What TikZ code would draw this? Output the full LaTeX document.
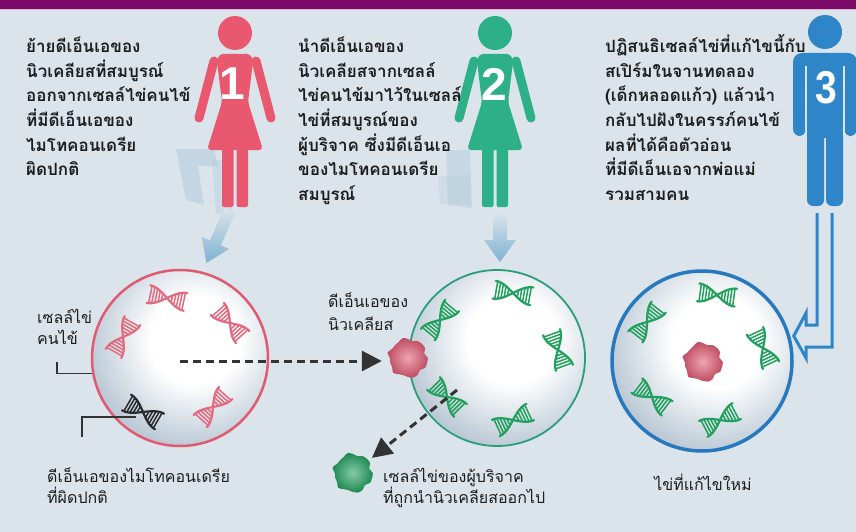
\documentclass[tikz,border=0pt]{standalone}
\usepackage{fontspec}
\newfontfamily\thaifont[Script=Thai]{Loma}
\newfontfamily\numfont{Liberation Sans}
\usetikzlibrary{arrows.meta}

\definecolor{bgcol}{HTML}{DCE4EB}
\definecolor{bannercol}{HTML}{7C0A68}
\definecolor{bannerline}{HTML}{E2B4D4}
\definecolor{womanpink}{HTML}{E8596F}
\definecolor{womangreen}{HTML}{2DB088}
\definecolor{manblue}{HTML}{2E86C8}
\definecolor{ringpink}{HTML}{E05A72}
\definecolor{ringgreen}{HTML}{2A9E7A}
\definecolor{ringblue}{HTML}{2678BF}
\definecolor{cellshade}{HTML}{8CA2B5}
\definecolor{cellmid}{HTML}{C6D2DC}
\definecolor{dnapinkc}{HTML}{E46A80}
\definecolor{dnagreenc}{HTML}{22A05E}
\definecolor{dnablackc}{HTML}{2A2A2A}
\definecolor{arrowblue}{HTML}{7FB2D2}
\definecolor{shadowblue}{HTML}{A8C6DA}
\definecolor{textcol}{HTML}{1E1E1E}
\definecolor{dashcol}{HTML}{333333}

\pgfdeclareradialshading{cellball}{\pgfpointorigin}{%
  color(0bp)=(white); color(10bp)=(white); color(22bp)=(cellmid);
  color(36bp)=(cellshade); color(50bp)=(cellshade)}

\tikzset{
  hdr/.style={anchor=base west, inner sep=0pt, text=textcol,
    font=\thaifont\bfseries\fontsize{17}{20}\selectfont},
  lbl/.style={anchor=base west, inner sep=0pt, text=textcol,
    font=\thaifont\fontsize{16}{19}\selectfont},
  numlbl/.style={text=white, inner sep=0pt,
    font=\numfont\bfseries\fontsize{46}{46}\selectfont},
  cellring/.style={circle, minimum size=176pt, inner sep=0pt},
  callout/.style={draw=dashcol, line width=1.4pt},
  transfer/.style={draw=dashcol, line width=3pt, dash pattern=on 8pt off 5pt,
    -{Triangle[length=20pt,width=20pt]}},
  dnapink/.style={color=dnapinkc},
  dnagreen/.style={color=dnagreenc},
  dnablack/.style={color=dnablackc},
  dna/.pic={
    \draw[line width=2.2pt, line join=round, line cap=round]
      plot[domain=-19:19, samples=21, smooth] (\x,{9*cos(90*(\x+19)/19)});
    \draw[line width=2.2pt, line join=round, line cap=round]
      plot[domain=-19:19, samples=21, smooth] (\x,{-9*cos(90*(\x+19)/19)});
    \foreach \u in {-17,-14,-11,-8,-5,5,8,11,14,17}
      \draw[line width=1.5pt] (\u,{9*cos(90*(\u+19)/19)}) -- (\u,{-9*cos(90*(\u+19)/19)});
  },
  blob/.pic={
    \shade[inner color=#1!55!white, outer color=#1!85!black]
      plot[smooth cycle, domain=0:345, samples=24] ({\x}:{19+1.4*sin(6*\x)+0.8*cos(11*\x)});
  },
  sphere/.pic={
    \begin{scope}
      \clip (0,0) circle (#1);
      \shade[shading=cellball] (15,-18) circle (#1+22);
    \end{scope}
  },
}

\begin{document}
\begin{tikzpicture}[x=1pt,y=-1pt]
\useasboundingbox (0,0) rectangle (856,532);
\fill[bgcol] (0,0) rectangle (856,532);

% title banner
\fill[bannercol] (0,0) rectangle (856,9);
\draw[bannerline, line width=1pt] (0,9.8) -- (856,9.8);

% soft shadows cast by the first two figures
\fill[shadowblue, opacity=0.45] (176,149) -- (214,149) -- (218,166) -- (198,166) -- (204,205) -- (186,200) -- cycle;
\fill[shadowblue, opacity=0.30] (212,160) -- (226,160) -- (232,214) -- (216,214) -- cycle;
\fill[shadowblue, opacity=0.40] (446,150) -- (470,150) -- (472,208) -- (448,205) -- cycle;
\fill[shadowblue, opacity=0.25] (438,176) -- (470,176) -- (470,204) -- (440,204) -- cycle;

% pointer arrows from figures to cells
\begin{scope}[shift={(230,210)}, rotate=-24]
  \shade[top color=bgcol, bottom color=arrowblue]
    (-6,0) -- (6,0) -- (6,36) -- (15,36) -- (0,58) -- (-15,36) -- (-6,36) -- cycle;
\end{scope}
\shade[top color=bgcol, bottom color=arrowblue]
  (493,212) -- (507,212) -- (507,240) -- (516,240) -- (500,262) -- (484,240) -- (493,240) -- cycle;

% figure 1
\begin{scope}[shift={(235,0)}, womanpink]
  \fill (0,33) circle (17);
  \fill[rounded corners=4] (-16,54) -- (16,54) -- (18,62) -- (13,102) -- (28,150) -- (-28,150) -- (-13,102) -- (-18,62) -- cycle;
  \draw[line width=9pt, line cap=round] (-21,61) -- (-36,118);
  \draw[line width=9pt, line cap=round] (21,61) -- (36,118);
  \fill[rounded corners=2] (-13,146) rectangle (-1.5,207);
  \fill[rounded corners=2] (1.5,146) rectangle (13,207);
  \node[numlbl] (n1) at (-3,84) {1};
\end{scope}

% figure 2
\begin{scope}[shift={(495,0)}, womangreen]
  \fill (0,33) circle (17);
  \fill[rounded corners=4] (-16,54) -- (16,54) -- (18,62) -- (13,102) -- (28,150) -- (-28,150) -- (-13,102) -- (-18,62) -- cycle;
  \draw[line width=9pt, line cap=round] (-21,61) -- (-36,118);
  \draw[line width=9pt, line cap=round] (21,61) -- (36,118);
  \fill[rounded corners=2] (-13,146) rectangle (-1.5,207);
  \fill[rounded corners=2] (1.5,146) rectangle (13,207);
  \node[numlbl] (n2) at (-1,84) {2};
\end{scope}

% figure 3
\begin{scope}[manblue]
  \fill (825,32) circle (17);
  \fill[rounded corners=9] (793,53) rectangle (857,138);
  \draw[bgcol, line width=2pt] (806,66) -- (806,140);
  \draw[bgcol, line width=2pt] (844,66) -- (844,140);
  \fill[bgcol] (793,133) rectangle (805,142);
  \fill[bgcol] (845,133) rectangle (857,142);
  \fill[rounded corners=5] (794,120) rectangle (805,136);
  \fill[rounded corners=5] (845,120) rectangle (856,136);
  \fill[rounded corners=6] (807,130) rectangle (824,206);
  \fill[rounded corners=6] (826,130) rectangle (843,206);
  \fill (807,130) rectangle (843,138);
  \node[numlbl, xscale=0.85] (n3) at (826,88) {3};
\end{scope}

% cells: shaded spheres with coloured rims
\pic at (180,358) {sphere=88};
\pic at (497,358) {sphere=88};
\pic at (702,361) {sphere=90};
\node[cellring, draw=ringpink, line width=2.5pt] (cellA) at (180,358) {};
\node[cellring, draw=ringgreen, line width=1.8pt] (cellB) at (497,358) {};
\node[cellring, draw=ringblue, line width=3.5pt, minimum size=180pt] (cellC) at (702,361) {};

% mitochondrial DNA
\pic[dnapink, rotate=-12] at (167,298) {dna};
\pic[dnapink, rotate=60] at (123,337) {dna};
\pic[dnapink, rotate=-48] at (230,323) {dna};
\pic[dnapink, rotate=48] at (213,407) {dna};
\pic[dnablack, rotate=-30] at (143,412) {dna};

\pic[dnagreen, rotate=-10] at (513,293) {dna};
\pic[dnagreen, rotate=50] at (440,320) {dna};
\pic[dnagreen, rotate=-70] at (558,350) {dna};
\pic[dnagreen, rotate=-45] at (447,397) {dna};
\pic[dnagreen, rotate=25] at (513,420) {dna};

\pic[dnagreen, rotate=-8] at (717,295) {dna};
\pic[dnagreen, rotate=52] at (647,322) {dna};
\pic[dnagreen, rotate=-65] at (763,348) {dna};
\pic[dnagreen, rotate=-37] at (652,397) {dna};
\pic[dnagreen, rotate=28] at (720,420) {dna};

% nuclei
\pic at (408,358) {blob=ringpink};
\pic at (353,473) {blob=dnagreenc};
\pic at (703,362) {blob=ringpink};
\node[circle, minimum size=40pt, inner sep=0pt] (nucB) at (408,358) {};
\node[circle, minimum size=40pt, inner sep=0pt] (nucG) at (353,473) {};

% nucleus transfer arrows
\coordinate (srcA) at (180,361);
\coordinate (srcB) at (457,390);
\draw[transfer, shorten >=6pt] (srcA) -- (nucB.west |- srcA);
\draw[transfer, shorten >=4pt] (srcB) -- (nucG);

% hollow arrow from figure 3 into the repaired egg
\coordinate (pipeL) at (817,213);
\coordinate (pipeR) at (832,213);
\draw[manblue, line width=3pt, line join=miter]
  (pipeL) -- (817,325) -- (806,325) -- (806,313) -- (cellC.east |- 0,336) -- (806,358) -- (806,347) -- (832,347) -- (pipeR);

% callout lines
\coordinate (cornerA) at (57,362);
\coordinate (cornerK) at (82,437);
\coordinate (blackdna) at (136,417);
\draw[callout] (cornerA) |- (cellA.190);
\draw[callout] (cornerK) |- (blackdna);

% step texts
\foreach \t [count=\i] in {ย้ายดีเอ็นเอของ, นิวเคลียสที่สมบูรณ์, ออกจากเซลล์ไข่คนไข้, ที่มีดีเอ็นเอของ, ไมโทคอนเดรีย, ผิดปกติ}
  \node[hdr] (ta\i) at (26,{53+24.5*(\i-1)}) {\t};
\foreach \t [count=\i] in {นำดีเอ็นเอของ, นิวเคลียสจากเซลล์, ไข่คนไข้มาไว้ในเซลล์, ไข่ที่สมบูรณ์ของ, ผู้บริจาค ซึ่งมีดีเอ็นเอ, ของไมโทคอนเดรีย, สมบูรณ์}
  \node[hdr] (tb\i) at (298,{53+24.5*(\i-1)}) {\t};
\foreach \t [count=\i] in {ปฏิสนธิเซลล์ไข่ที่แก้ไขนี้กับ, สเปิร์มในจานทดลอง, {(เด็กหลอดแก้ว) แล้วนำ}, กลับไปฝังในครรภ์คนไข้, ผลที่ได้คือตัวอ่อน, ที่มีดีเอ็นเอจากพ่อแม่, รวมสามคน}
  \node[hdr] (tc\i) at (605,{53+24.5*(\i-1)}) {\t};

% labels
\node[lbl] (la1) at (37,323) {เซลล์ไข่};
\node[lbl] (la2) at (37,344) {คนไข้};
\node[lbl] (lk1) at (47,482) {ดีเอ็นเอของไมโทคอนเดรีย};
\node[lbl] (lk2) at (47,503) {ที่ผิดปกติ};
\node[lbl] (ln1) at (328,307) {ดีเอ็นเอของ};
\node[lbl] (ln2) at (328,330) {นิวเคลียส};
\node[lbl] (ld1) at (383,482) {เซลล์ไข่ของผู้บริจาค};
\node[lbl] (ld2) at (383,503) {ที่ถูกนำนิวเคลียสออกไป};
\node[lbl, anchor=base] (lr) at (703,490) {ไข่ที่แก้ไขใหม่};
\end{tikzpicture}
\end{document}
